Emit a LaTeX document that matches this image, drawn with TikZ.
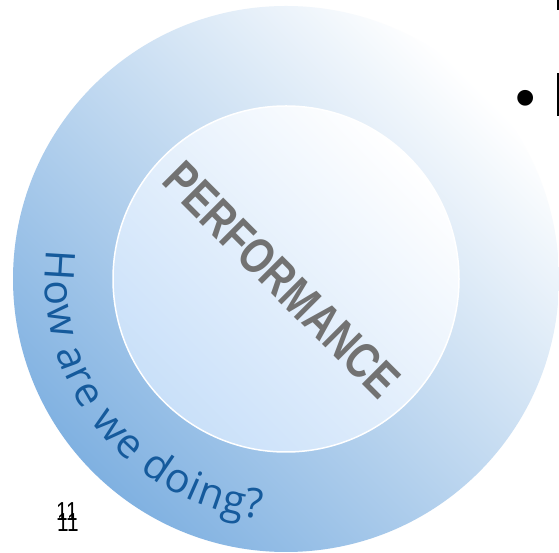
\documentclass[tikz,border=0pt]{standalone}
\usepackage{fontspec}
\setmainfont{Liberation Sans}
\newfontfamily\ringfont{Open Sans}
\usetikzlibrary{decorations.text}

\definecolor{ringblue}{HTML}{80B1E1}
\definecolor{coreblue}{HTML}{C9E0F9}
\definecolor{askblue}{HTML}{155A9C}
\definecolor{perfgray}{HTML}{727272}

\begin{document}
\begin{tikzpicture}[x=1pt,y=1pt,
    ring/.style={circle,inner sep=0pt,minimum size=546pt,
                 left color=ringblue,right color=white,shading angle=135},
    core/.style={circle,inner sep=0pt,minimum size=346pt,draw=white,line width=1.5pt,
                 left color=coreblue,right color=white,shading angle=135},
    perf/.style={text=perfgray,font=\fontsize{50}{50}\selectfont\bfseries,
                 inner sep=0pt,rotate=-45,xscale=0.79},
    pagenum/.style={font=\fontsize{26}{26}\selectfont,inner sep=0pt,anchor=base west,xscale=0.8}]

  \useasboundingbox (0,0) rectangle (559,553);
  \fill[white] (0,0) rectangle (559,553);

  \coordinate (c) at (286,274);

  \node[ring] (outer) at (c) {};
  \node[core] (core)  at (c) {};

  \node[perf] (perf) at (282,273) {PERFORMANCE};

  % text round the ring
  \path[decorate,decoration={text along path,text align=fit to path,
        text={|\ringfont\fontsize{41}{41}\selectfont\color{askblue}|How are we doing?}}]
    (c) ++(173:241) arc[start angle=173,end angle=264,radius=241];

  \node[pagenum] (pg1) at (56,32) {11};
  \node[pagenum] (pg2) at (57,21) {11};

  % bits of the slide text at the right edge
  \node[font=\fontsize{58}{58}\selectfont,inner sep=0pt] (bullet) at (526,449) {\textbullet};
  \fill (556.5,437) rectangle (559.5,480);
  \fill (556.5,543) rectangle (559.5,553);
\end{tikzpicture}
\end{document}
